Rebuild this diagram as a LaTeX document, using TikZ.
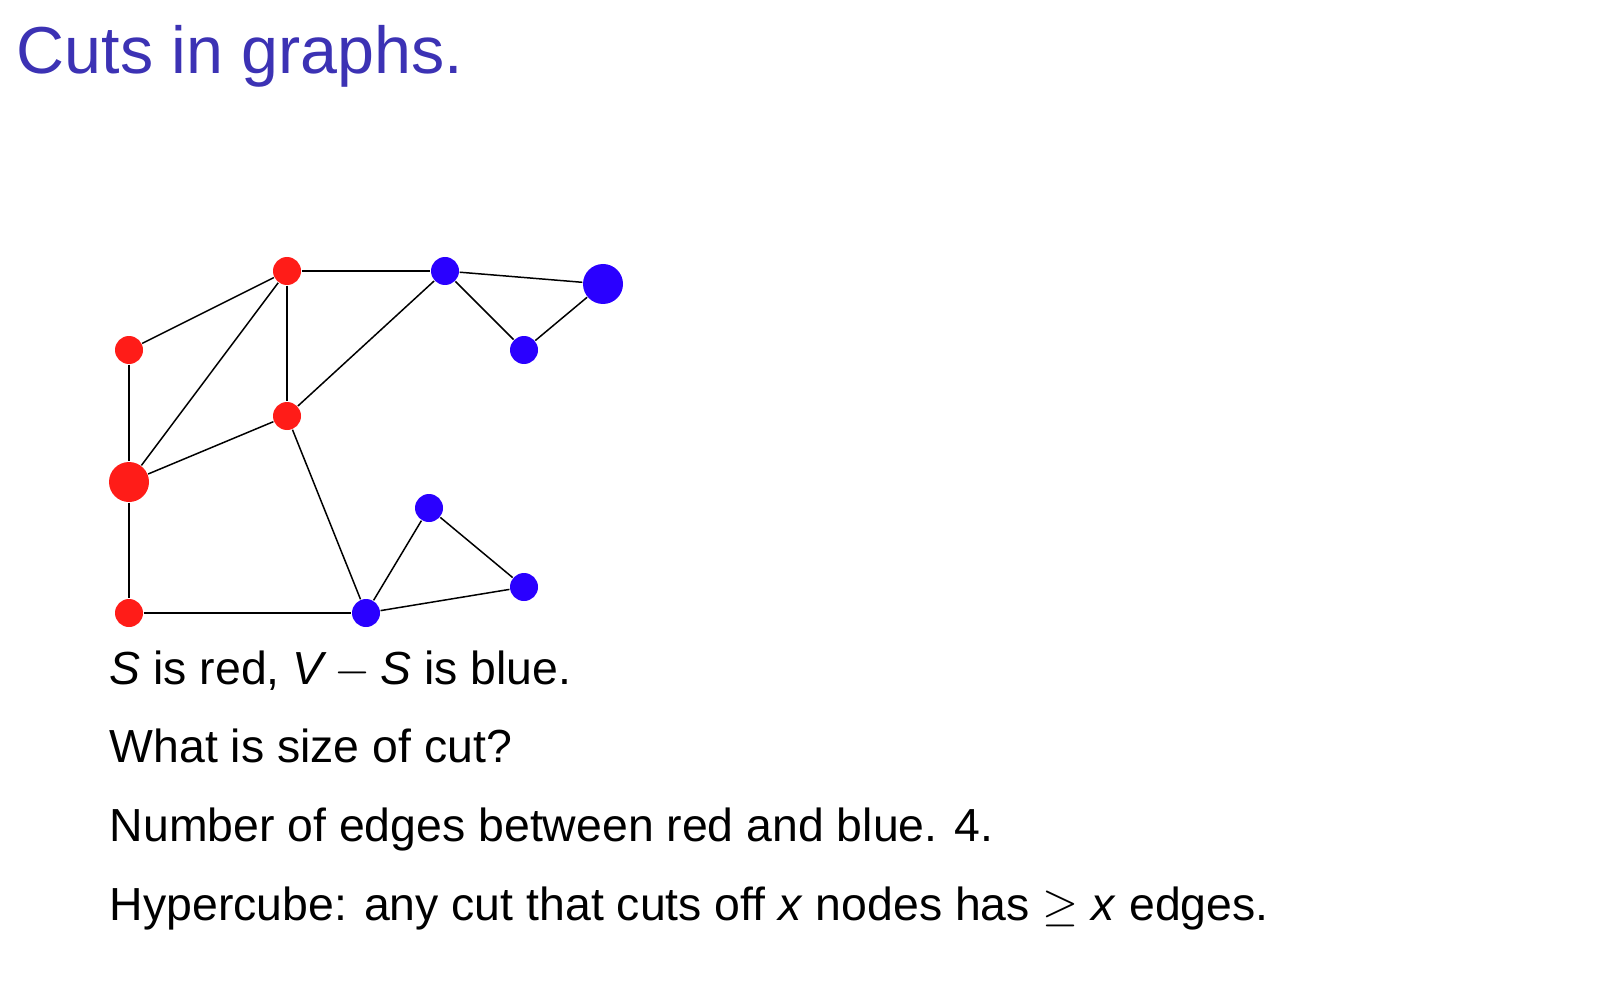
\documentclass[tikz,border=0pt]{standalone}
\usepackage{fix-cm}
\usepackage{fontspec}
\setmainfont{Liberation Sans}
\usepackage{xcolor}
\definecolor{titleblue}{RGB}{60,50,180}
\definecolor{nodered}{RGB}{255,28,24}
\definecolor{nodeblue}{RGB}{42,0,255}

\begin{document}
\begin{tikzpicture}[
        line width=0.85pt,
        vertex/.style = {circle,inner sep=0pt,minimum size=0.56cm},
        bigvertex/.style = {vertex,minimum size=0.8cm},
        sred/.style = {fill=nodered},
        sblue/.style = {fill=nodeblue},
        textline/.style = {anchor=base west,inner sep=0pt,font=\fontsize{26.4}{31}\selectfont}
        ]
        \useasboundingbox (0,0) rectangle (32.48,-19.78);

        %Titel
        \node[anchor=base west,inner sep=0pt,text=titleblue,
              font=\fontsize{37.8}{44}\selectfont] (title) at (0.32,-1.48) {Cuts in graphs.};

        %Knoten in S (rot)
        \node[vertex,sred]    (a) at (5.74,-5.42) {};
        \node[vertex,sred]    (b) at (2.58,-7.00) {};
        \node[vertex,sred]    (c) at (5.74,-8.32) {};
        \node[bigvertex,sred] (d) at (2.58,-9.64) {};
        \node[vertex,sred]    (e) at (2.58,-12.26) {};

        %Knoten in V-S (blau)
        \node[vertex,sblue]    (f) at (8.90,-5.42) {};
        \node[bigvertex,sblue] (g) at (12.06,-5.68) {};
        \node[vertex,sblue]    (h) at (10.48,-7.00) {};
        \node[vertex,sblue]    (i) at (8.58,-10.16) {};
        \node[vertex,sblue]    (j) at (10.48,-11.74) {};
        \node[vertex,sblue]    (k) at (7.32,-12.26) {};

        %Kanten
        \foreach \u/\v in {a/b,a/d,a/c,a/f,b/d,c/d,c/f,c/k,d/e,e/k,f/g,f/h,h/g,k/i,i/j,k/j}
        \draw (\u) -- (\v);

        %Text
        \node[textline] (l1) at (2.18,-13.69) {\textit{S} is red, $\textit{V}-\textit{S}$ is blue.};
        \node[textline] (l2) at (2.18,-15.25) {What is size of cut?};
        \node[textline] (l3) at (2.18,-16.82) {Number of edges between red and blue. 4.};
        \node[textline] (l4) at (2.18,-18.40) {Hypercube: any cut that cuts off \textit{x} nodes has $\geq$ \textit{x} edges.};

    \end{tikzpicture}
\end{document}
